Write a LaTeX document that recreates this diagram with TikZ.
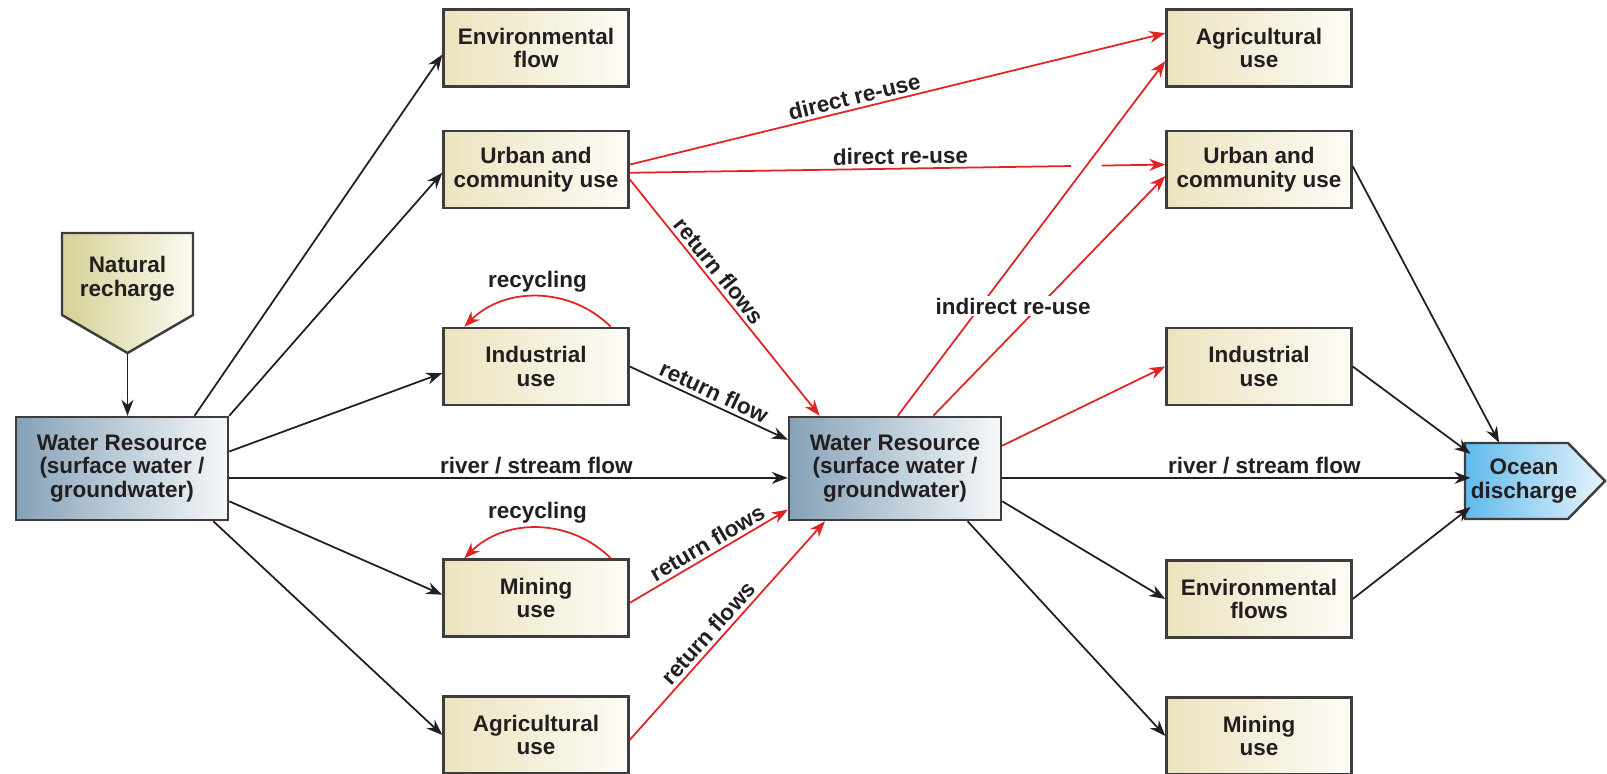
\documentclass[tikz,border=0pt]{standalone}
\usepackage{fontspec}
\setmainfont{Liberation Sans}
\usetikzlibrary{arrows.meta,calc}

\definecolor{inkgray}{RGB}{35,31,32}
\definecolor{framegray}{RGB}{62,60,60}
\definecolor{flowred}{RGB}{226,35,35}
\definecolor{usetan}{RGB}{236,227,190}
\definecolor{usewhite}{RGB}{253,252,247}
\definecolor{resblue}{RGB}{133,162,184}
\definecolor{reswhite}{RGB}{246,248,250}
\definecolor{rechtan}{RGB}{214,209,150}
\definecolor{rechwhite}{RGB}{251,250,240}
\definecolor{oceanblue}{RGB}{96,186,235}
\definecolor{oceanwhite}{RGB}{232,244,252}

\begin{document}
\begin{tikzpicture}[
    x=0.02cm,
    y=-0.02cm,
    every node/.style={
        font=\fontsize{12.8}{13.4}\selectfont\bfseries,
        text=inkgray,
        align=center
    },
    usebox/.style={
        rectangle,
        draw=framegray,
        line width=1.4pt,
        left color=usetan,
        right color=usewhite,
        minimum width=3.7cm,
        minimum height=1.54cm
    },
    resbox/.style={
        rectangle,
        draw=framegray,
        line width=1.4pt,
        left color=resblue,
        right color=reswhite,
        minimum width=4.24cm,
        minimum height=2.06cm
    },
    flow/.style={
        -{Stealth[length=0.32cm,width=0.24cm]},
        line width=1pt,
        draw=inkgray
    },
    reuse/.style={
        flow,
        draw=flowred
    },
    flowlab/.style={
        inner sep=2pt
    }
]
\useasboundingbox (0,0) rectangle (1607,774);

% --- Natural recharge ---
\draw[draw=framegray, line width=1.4pt, left color=rechtan, right color=rechwhite]
    (62,233) -- (193,233) -- (193,315) -- (127.5,353) -- (62,315) -- cycle;
\node (natrech) at (127.5,279) {Natural\\recharge};
\coordinate (natTip) at (127.5,353);

% --- Water resources ---
\node[resbox] (resL) at (122,468.5) {Water Resource\\(surface water /\\groundwater)};
\node[resbox] (resR) at (895,468.5) {Water Resource\\(surface water /\\groundwater)};

% --- Uses (left) ---
\node[usebox] (envL) at (536,48) {Environmental\\flow};
\node[usebox] (urbL) at (536,169.5) {Urban and\\community use};
\node[usebox] (indL) at (536,366.5) {Industrial\\use};
\node[usebox] (minL) at (536,598) {Mining\\use};
\node[usebox] (agrL) at (536,735) {Agricultural\\use};

% --- Uses (right) ---
\node[usebox] (agrR) at (1259,48) {Agricultural\\use};
\node[usebox] (urbR) at (1259,169.5) {Urban and\\community use};
\node[usebox] (indR) at (1259,366.5) {Industrial\\use};
\node[usebox] (envR) at (1259,599) {Environmental\\flows};
\node[usebox] (minR) at (1259,736) {Mining\\use};

% --- Ocean discharge ---
\draw[draw=framegray, line width=1.4pt, left color=oceanblue, right color=oceanwhite]
    (1465,443) -- (1568,443) -- (1605,481) -- (1568,519) -- (1465,519) -- cycle;
\node[inner sep=0pt, minimum width=2.06cm, minimum height=1.52cm] (ocean) at (1524,481) {Ocean\\discharge};

% --- Supply from left water resource ---
\draw[flow] (natTip) -- (natTip |- resL.north);
\draw[flow] (resL.36) -- (envL.184);
\draw[flow] (resL.north east) -- (urbL.182);
\draw[flow] (resL.9) -- (indL.184);
\draw[flow] (resL.-5) -- (resL.-5 -| resR.west)
    node[flowlab, above, pos=0.55] {river / stream flow};
\draw[flow] (resL.-17) -- (minL.178);
\draw[flow] (resL.-30) -- (agrL.west);

% --- Recycling ---
\draw[reuse] (indL.28) to[bend right=45] node[flowlab, above] {recycling} (indL.151);
\draw[reuse] (minL.28) to[bend right=45] node[flowlab, above] {recycling} (minL.151);

% --- Return flows ---
\draw[flow] (indL.east) -- (resR.165)
    node[flowlab, above, sloped, midway] {return flow};
\draw[reuse] (urbL.-6) -- (resR.145)
    node[flowlab, above, sloped, pos=0.42] {return flows};
\draw[reuse] (minL.-3) -- (resR.201)
    node[flowlab, above, sloped, pos=0.53] {return flows};
\draw[reuse] (agrL.-3) -- (resR.217)
    node[flowlab, above, sloped, pos=0.45] {return flows};

% --- Direct re-use ---
\draw[reuse] (urbL.3) -- (agrR.171)
    node[flowlab, above, sloped, pos=0.425] {direct re-use};
\draw[line width=1pt, flowred] (urbL.-2) -- ($(urbL.-2)!0.824!(urbR.177)$)
    node[flowlab, above, sloped, pos=0.614] {direct re-use};
\draw[reuse] ($(urbL.-2)!0.881!(urbR.177)$) -- (urbR.177);

% --- Indirect re-use ---
\draw[reuse] (resR.87) -- (agrR.188);
\draw[reuse] (resR.54) -- (urbR.184)
    node[flowlab, fill=white, inner sep=1pt, pos=0.456, xshift=-0.52cm] {indirect re-use};
\draw[reuse] (resR.12) -- (indR.west);

% --- Supply from right water resource ---
\draw[flow] (resR.-5) -- (resR.-5 -| ocean.west)
    node[flowlab, above, pos=0.56] {river / stream flow};
\draw[flow] (resR.-17) -- (envR.west);
\draw[flow] (resR.-36) -- (minR.west);

% --- Discharge to ocean ---
\draw[flow] (urbR.2) -- (ocean.123);
\draw[flow] (indR.east) -- (ocean.153);
\draw[flow] (envR.east) -- (ocean.206);

\end{tikzpicture}
\end{document}
